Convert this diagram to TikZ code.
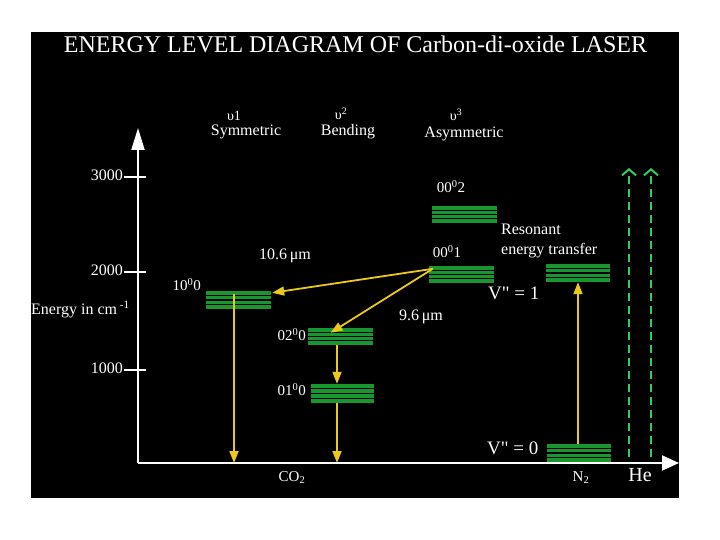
\documentclass[tikz,border=0pt]{standalone}
\usepackage{fontspec}
\setmainfont{Liberation Serif}
\newfontfamily\plainserif{Liberation Serif}
\usetikzlibrary{arrows.meta,calc}
\definecolor{yel}{RGB}{235,200,25}
\definecolor{barg}{RGB}{25,150,45}
\definecolor{dashg}{RGB}{50,205,95}
\begin{document}
\begin{tikzpicture}[x=1pt,y=-1pt,
  txt/.style={text=white, inner sep=0pt, font=\fontsize{15}{18}\selectfont},
  big/.style={font=\fontsize{16}{19}\selectfont},
  ups/.style={font=\fontsize{14}{16}\selectfont},
  axisline/.style={white, line width=2pt},
  yarr/.style={yel, line width=1.8pt, -{Triangle[length=12pt,width=9pt]}},
  gdash/.style={dashg, line width=2pt, dash pattern=on 8pt off 5pt, -{Straight Barb[length=6pt,width=14pt]}},
  lvl/.style={fill=barg, draw=none, inner sep=0pt, minimum width=65pt, minimum height=17pt,
    path picture={\foreach \f in {0.25,0.5,0.75}{\draw[black,line width=1.1pt]
      ($(path picture bounding box.south west)!\f!(path picture bounding box.north west)$) -- ++(80,0);}}}
]
\useasboundingbox (0,0) rectangle (720,540);
\fill[white] (0,0) rectangle (720,540);
\fill[black] (31,32) rectangle (679,498);

% title
\node[txt, font=\fontsize{24}{28}\selectfont, anchor=base] (title) at (355.5,53) {ENERGY LEVEL DIAGRAM OF Carbon-di-oxide LASER};

% mode labels
\node[txt, ups, anchor=mid] (u1) at (234,118) {υ1};
\node[txt, big, anchor=mid] (sym) at (246,133) {Symmetric};
\node[txt, ups, anchor=mid] (u2) at (341,117) {υ\textsuperscript{2}};
\node[txt, big, anchor=mid] (bend) at (348,133) {Bending};
\node[txt, ups, anchor=mid] (u3) at (456,118) {υ\textsuperscript{3}};
\node[txt, big, anchor=mid] (asym) at (464,135) {Asymmetric};

% axes
\coordinate (O) at (138,463);
\coordinate (ytop) at (138,128);
\coordinate (xtip) at (679,463);
\draw[axisline, -{Triangle[length=22pt,width=13pt]}] (O) -- (ytop);
\draw[axisline, -{Triangle[length=17pt,width=15pt]}] (O) -- (xtip);
\foreach \yy/\lab in {177/3000,272/2000,370/1000}{
  \draw[axisline] (124,\yy) -- (146,\yy);
  \node[txt, big, anchor=mid east, name=t\lab] at (123,\yy+1) {\lab};
}
\node[txt, big, anchor=mid west] (elab) at (31,312) {Energy in cm\,\textsuperscript{-1}};

% levels
\node[lvl, minimum height=18pt] (b100) at (238.5,300) {};
\node[lvl] (b020) at (340.5,336.5) {};
\node[lvl, minimum width=63pt, minimum height=19pt] (b010) at (342.5,393.5) {};
\node[lvl] (b002) at (464.5,214.5) {};
\node[lvl] (b001) at (461.5,274.5) {};
\node[lvl, minimum width=64pt, minimum height=18pt] (bN1) at (578,273) {};
\node[lvl, minimum width=64pt, minimum height=18pt] (bN0) at (579,453) {};

\node[txt, anchor=mid east] (l100) at (201,288) {10\textsuperscript{0}0};
\node[txt, anchor=mid east] (l020) at (306,338) {02\textsuperscript{0}0};
\node[txt, anchor=mid east] (l010) at (306,393) {01\textsuperscript{0}0};
\node[txt, anchor=mid] (l002) at (451,190) {00\textsuperscript{0}2};
\node[txt, anchor=mid] (l001) at (447,255) {00\textsuperscript{0}1};

\node[txt, big, anchor=mid] (w106) at (285,257) {10.6\,μm};
\node[txt, big, anchor=mid] (w96) at (421,318) {9.6\,μm};
\node[txt, big, anchor=mid west] (res1) at (501,232) {Resonant};
\node[txt, big, anchor=mid west] (res2) at (501,252) {energy transfer};
\node[txt, font=\fontsize{19}{22}\plainserif, anchor=mid west] (v1) at (488,297) {V" = 1};
\node[txt, font=\fontsize{19}{22}\plainserif, anchor=mid west] (v0) at (487,452) {V" = 0};
\node[txt, anchor=mid] (co2) at (292,479) {CO\textsubscript{2}};
\node[txt, anchor=mid] (n2) at (581,479) {N\textsubscript{2}};
\node[txt, font=\fontsize{20}{24}\selectfont, anchor=mid] (he) at (640,479) {He};

% transitions
\coordinate (src) at ($(b001.north west)+(4,3)$);
\draw[yarr] (src) -- ($(b100.north east)+(1,2)$);
\draw[yarr] (src) -- ($(b020.north)+(-10,5)$);
\coordinate (d1) at ($(b100.north)+(-4.5,3)$);
\draw[yarr] (d1) -- (d1 |- O);
\coordinate (d2) at ($(b020.south)+(-3.5,0)$);
\draw[yarr] (d2) -- (d2 |- b010.north);
\coordinate (d3) at ($(b010.south)+(-5.5,0)$);
\draw[yarr] (d3) -- (d3 |- O);
\coordinate (n0) at ($(bN0.north)+(-1,0)$);
\draw[yarr] (n0) -- (n0 |- bN1.south);

% helium dashed arrows
\coordinate (h1b) at (629,457);
\coordinate (h1t) at (629,168);
\coordinate (h2b) at (651,457);
\coordinate (h2t) at (651,168);
\draw[gdash] (h1b) -- (h1t);
\draw[gdash] (h2b) -- (h2t);
\end{tikzpicture}
\end{document}
